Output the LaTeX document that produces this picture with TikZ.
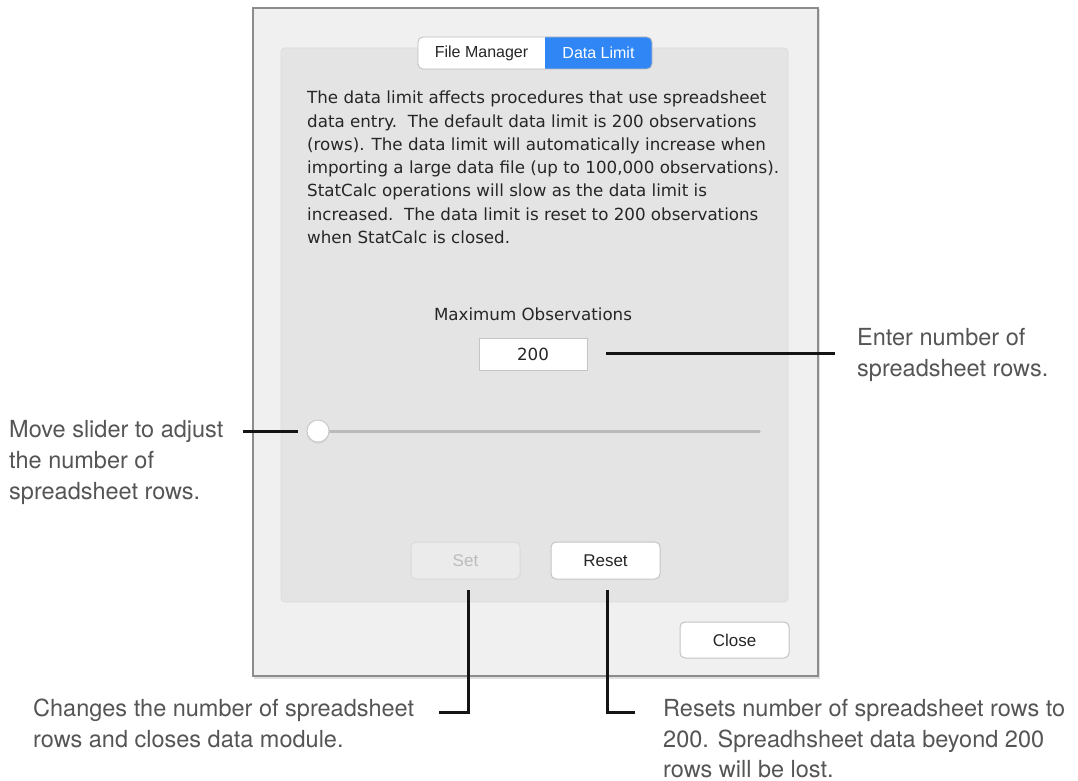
\documentclass[tikz,border=0pt]{standalone}
\usepackage{fontspec}
\newfontfamily\uifont{DejaVu Sans}
\newfontfamily\ctlfont{Liberation Sans}
\newfontfamily\notefont{TeX Gyre Heros}
\definecolor{winfill}{HTML}{F0F0F0}
\definecolor{winborder}{HTML}{8C8C8C}
\definecolor{panelfill}{HTML}{E4E4E4}
\definecolor{panelborder}{HTML}{DCDCDC}
\definecolor{tabblue}{HTML}{2F86F4}
\definecolor{tabborder}{HTML}{BDBDBD}
\definecolor{uitext}{HTML}{262626}
\definecolor{notetext}{HTML}{555555}
\definecolor{conncol}{HTML}{141414}
\definecolor{trackcol}{HTML}{B9B9B9}
\definecolor{btnborder}{HTML}{C4C4C4}
\definecolor{disfill}{HTML}{EBEBEB}
\definecolor{disborder}{HTML}{DADADA}
\definecolor{distext}{HTML}{BCBCBC}
\tikzset{
  bodyline/.style={anchor=base west, inner sep=0pt, text=uitext, font=\uifont\fontsize{16.7}{20}\selectfont},
  noteline/.style={anchor=base west, inner sep=0pt, text=notetext, font=\notefont\fontsize{23.5}{28}\selectfont},
  tablabel/.style={inner sep=0pt, font=\ctlfont\fontsize{16}{19}\selectfont},
  btn/.style={draw=btnborder, fill=white, rounded corners=5pt, line width=1pt, minimum width=109pt, minimum height=37pt, inner sep=0pt, text=uitext, font=\ctlfont\fontsize{17}{20}\selectfont},
  disbtn/.style={btn, draw=disborder, fill=disfill, text=distext},
  conn/.style={draw=conncol, line width=3pt},
}
\begin{document}
\begin{tikzpicture}[x=1pt,y=-1pt]
\useasboundingbox (0,0) rectangle (1078,781);
\fill[white] (0,0) rectangle (1078,781);
% window
\fill[black!12] (254,9) rectangle (820,679);
\filldraw[fill=winfill, draw=winborder, line width=2pt] (253,8) rectangle (818,676);
% inner panel
\filldraw[fill=panelfill, draw=panelborder, line width=0.8pt, rounded corners=4pt] (281,48) rectangle (788,602);
% tabs
\fill[white, rounded corners=5pt] (418,37) rectangle (652,69);
\begin{scope}
\clip (545,30) rectangle (660,75);
\fill[tabblue, rounded corners=5pt] (418,37) rectangle (652,69);
\end{scope}
\draw[tabborder, line width=0.8pt, rounded corners=5pt] (418,37) rectangle (652,69);
\node[tablabel, text=uitext] (fm) at (481.5,53) {File Manager};
\node[tablabel, text=white] (dl) at (598.5,53) {Data Limit};
% body text
\node[bodyline] (b1) at (307,104) {The data limit affects procedures that use spreadsheet};
\node[bodyline] (b2) at (307,127.2) {data entry.\ \ The default data limit is 200 observations};
\node[bodyline] (b3) at (307,150.4) {(rows). The data limit will automatically increase when};
\node[bodyline] (b4) at (307,173.6) {importing a large data file (up to 100,000 observations).};
\node[bodyline] (b5) at (307,196.8) {StatCalc operations will slow as the data limit is};
\node[bodyline] (b6) at (307,220) {increased.\ \ The data limit is reset to 200 observations};
\node[bodyline] (b7) at (307,243.2) {when StatCalc is closed.};
% maximum observations
\node[bodyline, anchor=base] (maxobs) at (533,320) {Maximum Observations};
\node[draw=btnborder, fill=white, line width=0.8pt, minimum width=108pt, minimum height=32pt, inner sep=0pt, text=uitext, font=\uifont\fontsize{16.7}{20}\selectfont] (box) at (533,354) {200};
% slider
\coordinate (knobc) at (318,431);
\coordinate (trackend) at (759,431);
\draw[trackcol, line width=3pt, line cap=round] (knobc) -- (trackend);
\fill[black!15] (318,432.5) circle (11.5pt);
\node[circle, draw=btnborder, fill=white, line width=0.8pt, minimum size=22pt, inner sep=0pt] (knob) at (knobc) {};
% buttons
\node[disbtn] (setbtn) at (465.5,560.5) {Set};
\node[btn] (resetbtn) at (605.5,560.5) {Reset};
\node[btn, minimum height=36pt] (closebtn) at (734.5,640) {Close};
% notes
\node[noteline] (n1a) at (9,437) {Move slider to adjust};
\node[noteline] (n1b) at (9,468) {the number of};
\node[noteline] (n1c) at (9,499) {spreadsheet rows.};
\node[noteline] (n2a) at (857,345) {Enter number of};
\node[noteline] (n2b) at (857,376) {spreadsheet rows.};
\node[noteline] (n3a) at (33,716) {Changes the number of spreadsheet};
\node[noteline] (n3b) at (33,747) {rows and closes data module.};
\node[noteline] (n4a) at (663,716) {Resets number of spreadsheet rows to};
\node[noteline] (n4b) at (663,747) {200. Spreadhsheet data beyond 200};
\node[noteline] (n4c) at (663,777) {rows will be lost.};
% connectors
\coordinate (slA) at (243,431);
\coordinate (slB) at (298,431);
\draw[conn] (slA) -- (slB);
\coordinate (bxA) at (606,353);
\coordinate (bxB) at (835,353);
\draw[conn] (bxA) -- (bxB);
\coordinate (stA) at (468,590);
\coordinate (stB) at (439,712);
\draw[conn] (stA) |- (stB);
\coordinate (rsA) at (607,590);
\coordinate (rsB) at (635,712);
\draw[conn] (rsA) |- (rsB);
\end{tikzpicture}
\end{document}
